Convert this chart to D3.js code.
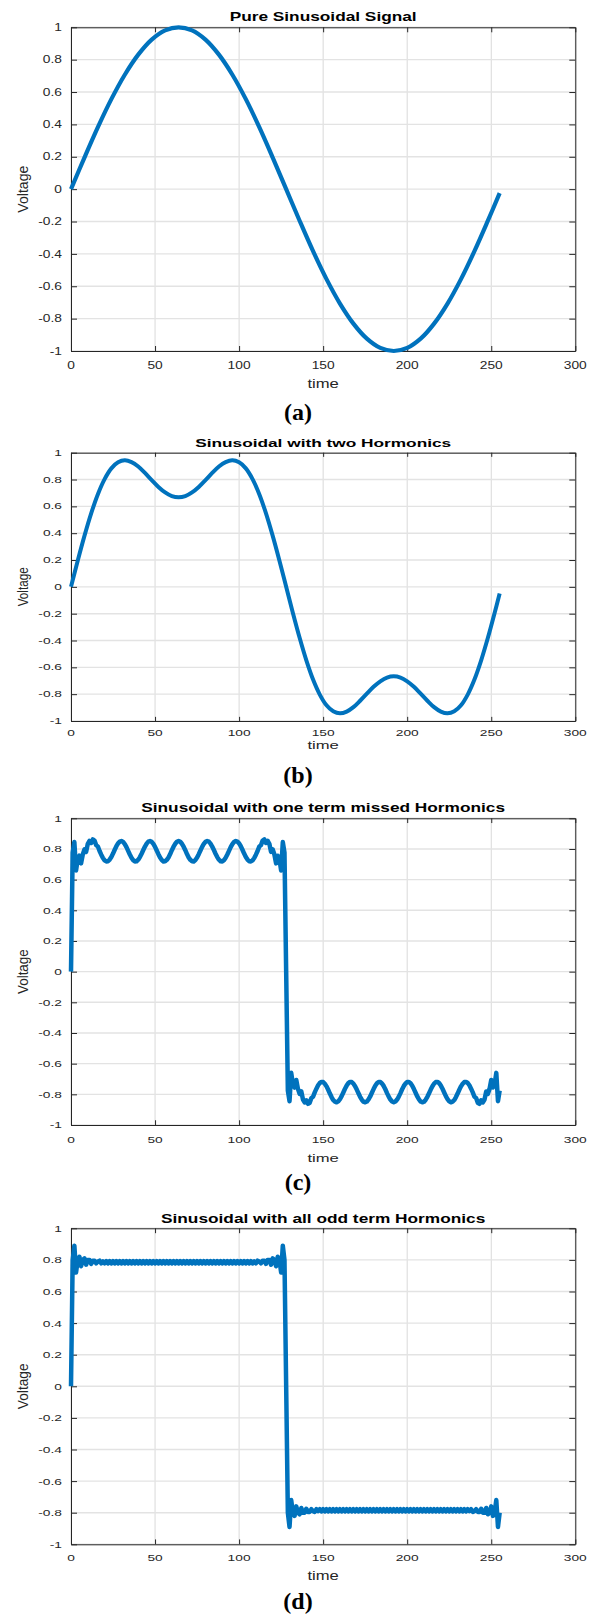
<!DOCTYPE html>
<html lang="en">
<head>
<meta charset="UTF-8">
<title>Sinusoidal signals and harmonics</title>
<style>
  body { margin: 0; background: #fff; }
  svg { display: block; }
</style>
<script src="https://cdn.jsdelivr.net/npm/d3@7"></script>
</head>
<body>
<script>
// ---------- data ----------
var xTicks = [0, 50, 100, 150, 200, 250, 300];
var xTickLabels = ["0", "50", "100", "150", "200", "250", "300"];
var yTicks = [-1, -0.8, -0.6, -0.4, -0.2, 0, 0.2, 0.4, 0.6, 0.8, 1];
var yTickLabels = ["-1", "-0.8", "-0.6", "-0.4", "-0.2", "0", "0.2", "0.4", "0.6", "0.8", "1"];

var titles = [
  "Pure Sinusoidal Signal",
  "Sinusoidal with two Hormonics",
  "Sinusoidal with one term missed Hormonics",
  "Sinusoidal with all odd term Hormonics"
];
var captions = ["(a)", "(b)", "(c)", "(d)"];
var xLabel = "time";
var yLabel = "Voltage";

// (a) pure sine, read every 8 samples
var pureTime = [0, 8, 16, 24, 32, 40, 48, 56, 64, 72, 80, 88, 96, 104, 112, 120, 128,
  136, 144, 152, 160, 168, 176, 184, 192, 200, 208, 216, 224, 232, 240, 248, 255];
var pureVolt = [0, 0.195, 0.383, 0.556, 0.707, 0.831, 0.924, 0.981, 1, 0.981, 0.924, 0.831, 0.707, 0.556, 0.383, 0.195, 0,
  -0.195, -0.383, -0.556, -0.707, -0.831, -0.924, -0.981, -1, -0.981, -0.924, -0.831, -0.707, -0.556, -0.383, -0.195, -0.025];

// (b) two harmonics, read every 4 samples
var twoTime = [0, 4, 8, 12, 16, 20, 24, 28, 32, 36, 40, 44, 48, 52, 56, 60, 64,
  68, 72, 76, 80, 84, 88, 92, 96, 100, 104, 108, 112, 116, 120, 124, 128,
  132, 136, 140, 144, 148, 152, 156, 160, 164, 168, 172, 176, 180, 184, 188, 192,
  196, 200, 204, 208, 212, 216, 220, 224, 228, 232, 236, 240, 244, 248, 252, 255];
var twoVolt = [0, 0.195, 0.380, 0.548, 0.691, 0.803, 0.883, 0.928, 0.943, 0.930, 0.897, 0.849, 0.796, 0.745, 0.704, 0.676, 0.667,
  0.676, 0.704, 0.745, 0.796, 0.849, 0.897, 0.930, 0.943, 0.928, 0.883, 0.803, 0.691, 0.548, 0.380, 0.195, 0,
  -0.195, -0.380, -0.548, -0.691, -0.803, -0.883, -0.928, -0.943, -0.930, -0.897, -0.849, -0.796, -0.745, -0.704, -0.676, -0.667,
  -0.676, -0.704, -0.745, -0.796, -0.849, -0.897, -0.930, -0.943, -0.928, -0.883, -0.803, -0.691, -0.548, -0.380, -0.195, -0.049];

// (c) one harmonic missed, one value per sample t = 0..255
var missedVolt = [
  0, 0.776, 0.845, 0.660, 0.734, 0.756, 0.706, 0.764, 0.797, 0.781,
  0.834, 0.853, 0.839, 0.862, 0.855, 0.824, 0.816, 0.787, 0.763, 0.741,
  0.726, 0.719, 0.720, 0.731, 0.748, 0.770, 0.795, 0.818, 0.837, 0.848,
  0.852, 0.846, 0.832, 0.812, 0.788, 0.764, 0.743, 0.727, 0.719, 0.720,
  0.730, 0.747, 0.769, 0.793, 0.816, 0.835, 0.848, 0.852, 0.847, 0.833,
  0.814, 0.790, 0.766, 0.744, 0.728, 0.719, 0.720, 0.729, 0.745, 0.767,
  0.792, 0.815, 0.834, 0.847, 0.852,
  0.847, 0.834, 0.815, 0.792, 0.767, 0.745, 0.729, 0.720, 0.719, 0.728,
  0.744, 0.766, 0.790, 0.814, 0.833, 0.847, 0.852, 0.848, 0.835, 0.816,
  0.793, 0.769, 0.747, 0.730, 0.720, 0.719, 0.727, 0.743, 0.764, 0.788,
  0.812, 0.832, 0.846, 0.852, 0.848, 0.837, 0.818, 0.795, 0.770, 0.748,
  0.731, 0.720, 0.719, 0.726, 0.741, 0.763, 0.787, 0.816, 0.824, 0.855,
  0.862, 0.839, 0.853, 0.834, 0.781, 0.797, 0.764, 0.706, 0.756, 0.734,
  0.660, 0.845, 0.776,
  0,
  -0.776, -0.845, -0.660, -0.734, -0.756, -0.706, -0.764, -0.797, -0.781, -0.834,
  -0.853, -0.839, -0.862, -0.855, -0.824, -0.816, -0.787, -0.763, -0.741, -0.726,
  -0.719, -0.720, -0.731, -0.748, -0.770, -0.795, -0.818, -0.837, -0.848, -0.852,
  -0.846, -0.832, -0.812, -0.788, -0.764, -0.743, -0.727, -0.719, -0.720, -0.730,
  -0.747, -0.769, -0.793, -0.816, -0.835, -0.848, -0.852, -0.847, -0.833, -0.814,
  -0.790, -0.766, -0.744, -0.728, -0.719, -0.720, -0.729, -0.745, -0.767, -0.792,
  -0.815, -0.834, -0.847, -0.852,
  -0.847, -0.834, -0.815, -0.792, -0.767, -0.745, -0.729, -0.720, -0.719, -0.728,
  -0.744, -0.766, -0.790, -0.814, -0.833, -0.847, -0.852, -0.848, -0.835, -0.816,
  -0.793, -0.769, -0.747, -0.730, -0.720, -0.719, -0.727, -0.743, -0.764, -0.788,
  -0.812, -0.832, -0.846, -0.852, -0.848, -0.837, -0.818, -0.795, -0.770, -0.748,
  -0.731, -0.720, -0.719, -0.726, -0.741, -0.763, -0.787, -0.816, -0.824, -0.855,
  -0.862, -0.839, -0.853, -0.834, -0.781, -0.797, -0.764, -0.706, -0.756, -0.734,
  -0.660, -0.845, -0.776
];

// (d) all odd harmonics, one value per sample t = 0..255
var oddVolt = [
  0, 0.80, 0.89, 0.72, 0.80, 0.82, 0.76, 0.80, 0.81, 0.77,
  0.80, 0.80, 0.775, 0.795, 0.795, 0.778, 0.79, 0.795, 0.778, 0.79, 0.778,
  0.792, 0.778, 0.792, 0.778, 0.792, 0.778, 0.792, 0.778, 0.792, 0.778,
  0.792, 0.778, 0.792, 0.778, 0.792, 0.778, 0.792, 0.778, 0.792, 0.778,
  0.792, 0.778, 0.792, 0.778, 0.792, 0.778, 0.792, 0.778, 0.792, 0.778,
  0.792, 0.778, 0.792, 0.778, 0.792, 0.778, 0.792, 0.778, 0.792, 0.778,
  0.792, 0.778, 0.792, 0.778, 0.792, 0.778, 0.792, 0.778, 0.792, 0.778,
  0.792, 0.778, 0.792, 0.778, 0.792, 0.778, 0.792, 0.778, 0.792, 0.778,
  0.792, 0.778, 0.792, 0.778, 0.792, 0.778, 0.792, 0.778, 0.792, 0.778,
  0.792, 0.778, 0.792, 0.778, 0.792, 0.778, 0.792, 0.778, 0.792, 0.778,
  0.792, 0.778, 0.792, 0.778, 0.792, 0.778, 0.792,
  0.778, 0.79, 0.778, 0.795, 0.79, 0.778, 0.795, 0.795, 0.775, 0.80,
  0.80, 0.77, 0.81, 0.80, 0.76, 0.82, 0.80, 0.72, 0.89, 0.80,
  0,
  -0.80, -0.89, -0.72, -0.80, -0.82, -0.76, -0.80, -0.81, -0.77, -0.80,
  -0.80, -0.775, -0.795, -0.795, -0.778, -0.79, -0.795, -0.778, -0.79, -0.778,
  -0.792, -0.778, -0.792, -0.778, -0.792, -0.778, -0.792, -0.778, -0.792, -0.778,
  -0.792, -0.778, -0.792, -0.778, -0.792, -0.778, -0.792, -0.778, -0.792, -0.778,
  -0.792, -0.778, -0.792, -0.778, -0.792, -0.778, -0.792, -0.778, -0.792, -0.778,
  -0.792, -0.778, -0.792, -0.778, -0.792, -0.778, -0.792, -0.778, -0.792, -0.778,
  -0.792, -0.778, -0.792, -0.778, -0.792, -0.778, -0.792, -0.778, -0.792, -0.778,
  -0.792, -0.778, -0.792, -0.778, -0.792, -0.778, -0.792, -0.778, -0.792, -0.778,
  -0.792, -0.778, -0.792, -0.778, -0.792, -0.778, -0.792, -0.778, -0.792, -0.778,
  -0.792, -0.778, -0.792, -0.778, -0.792, -0.778, -0.792, -0.778, -0.792, -0.778,
  -0.792, -0.778, -0.792, -0.778, -0.792, -0.778, -0.792,
  -0.778, -0.79, -0.778, -0.795, -0.79, -0.778, -0.795, -0.795, -0.775, -0.80,
  -0.80, -0.77, -0.81, -0.80, -0.76, -0.82, -0.80, -0.72, -0.89, -0.80
];

var series = [
  { time: pureTime, volt: pureVolt, smooth: true },
  { time: twoTime, volt: twoVolt, smooth: true },
  { time: d3.range(missedVolt.length), volt: missedVolt, smooth: false },
  { time: d3.range(oddVolt.length), volt: oddVolt, smooth: false }
];

// ---------- layout ----------
var W = 598, H = 1618;
var plotLeft = 71, plotRight = 575.3;
var SX = 1.35;                 // the source figure is stretched horizontally
var SANS = "'Liberation Sans', Arial, Helvetica, sans-serif";
var SERIF = "'Liberation Serif', 'Times New Roman', serif";
var lineColor = "#0072bd";

var panels = [
  { top: 27.3,   bottom: 351,    titleY: 20.7,   tickY: 365.5,  xlabY: 388,    capY: 420,  sy: 1.0,  lw: 4.2 },
  { top: 452.7,  bottom: 721,    titleY: 447,    tickY: 733.3,  xlabY: 749,    capY: 783,  sy: 0.83, lw: 4.0 },
  { top: 818.3,  bottom: 1125,   titleY: 812,    tickY: 1139.2, xlabY: 1161.5, capY: 1190, sy: 0.95, lw: 4.5 },
  { top: 1228.3, bottom: 1544.3, titleY: 1222.7, tickY: 1557.3, xlabY: 1580,   capY: 1609, sy: 0.975, lw: 4.5 }
];

var svg = d3.select("body").append("svg")
  .attr("width", W)
  .attr("height", H)
  .style("background", "#fff");

var x = d3.scaleLinear().domain([0, 300]).range([plotLeft, plotRight]);

function addText(parent, str, tx, ty, o) {
  return parent.append("text")
    .attr("transform", "translate(" + tx + "," + ty + ") scale(" + (o.sx || SX) + "," + o.sy + ")")
    .attr("text-anchor", o.anchor || "middle")
    .attr("font-family", o.family || SANS)
    .attr("font-size", o.size)
    .attr("font-weight", o.weight || "normal")
    .attr("fill", o.color || "#262626")
    .text(str);
}

panels.forEach(function(p, i) {
  var y = d3.scaleLinear().domain([-1, 1]).range([p.bottom, p.top]);
  var g = svg.append("g");

  // grid
  g.append("g").selectAll("line").data(xTicks).join("line")
    .attr("x1", function(d) { return x(d); })
    .attr("x2", function(d) { return x(d); })
    .attr("y1", p.top).attr("y2", p.bottom)
    .attr("stroke", "#d9d9d9").attr("stroke-width", 1);
  g.append("g").selectAll("line").data(yTicks).join("line")
    .attr("x1", plotLeft).attr("x2", plotRight)
    .attr("y1", function(d) { return y(d); })
    .attr("y2", function(d) { return y(d); })
    .attr("stroke", "#e3e3e3").attr("stroke-width", 1.4);

  // box with inward ticks on all four sides
  var tx = 5 * p.sy, ty = 6;
  var axes = [
    [d3.axisBottom(x).tickValues(xTicks).tickSizeInner(-tx), "translate(0," + p.bottom + ")"],
    [d3.axisTop(x).tickValues(xTicks).tickSizeInner(-tx), "translate(0," + p.top + ")"],
    [d3.axisLeft(y).tickValues(yTicks).tickSizeInner(-ty), "translate(" + plotLeft + ",0)"],
    [d3.axisRight(y).tickValues(yTicks).tickSizeInner(-ty), "translate(" + plotRight + ",0)"]
  ];
  axes.forEach(function(a) {
    var ax = g.append("g").attr("transform", a[1])
      .call(a[0].tickSizeOuter(0).tickFormat(""));
    ax.selectAll("path, line").attr("stroke", "#262626").attr("stroke-width", 1);
    ax.selectAll("text").remove();
  });

  // tick labels
  xTicks.forEach(function(t, k) {
    addText(g, xTickLabels[k], x(t), p.tickY + 3.65 * p.sy, { size: 10.2, sy: p.sy });
  });
  yTicks.forEach(function(t, k) {
    addText(g, yTickLabels[k], plotLeft - 9, y(t) + 3.65 * p.sy, { size: 10.2, sy: p.sy, anchor: "end" });
  });

  // title and axis labels
  addText(g, titles[i], (plotLeft + plotRight) / 2, p.titleY,
    { size: 12.8, sy: p.sy, weight: "bold", color: "#000" });
  addText(g, xLabel, x(150), p.xlabY, { size: 12.3, sy: p.sy });
  g.append("text")
    .attr("transform", "translate(28.4," + ((p.top + p.bottom) / 2) + ") rotate(-90) scale(" + p.sy + "," + SX + ")")
    .attr("text-anchor", "middle")
    .attr("font-family", SANS)
    .attr("font-size", 11.5)
    .attr("fill", "#262626")
    .attr("textLength", 47)
    .attr("lengthAdjust", "spacingAndGlyphs")
    .text(yLabel);

  // caption under each panel
  addText(svg, captions[i], 298, p.capY, { size: 24, sx: 1, sy: 1, weight: "bold", color: "#000", family: SERIF });

  // the signal
  var s = series[i];
  var pts = s.time.map(function(t, k) { return [t, s.volt[k]]; });
  var line = d3.line()
    .x(function(d) { return x(d[0]); })
    .y(function(d) { return y(d[1]); })
    .curve(s.smooth ? d3.curveCatmullRom : d3.curveLinear);
  g.append("path")
    .datum(pts)
    .attr("d", line)
    .attr("fill", "none")
    .attr("stroke", lineColor)
    .attr("stroke-width", p.lw)
    .attr("stroke-linejoin", "round");
});
</script>
</body>
</html>
